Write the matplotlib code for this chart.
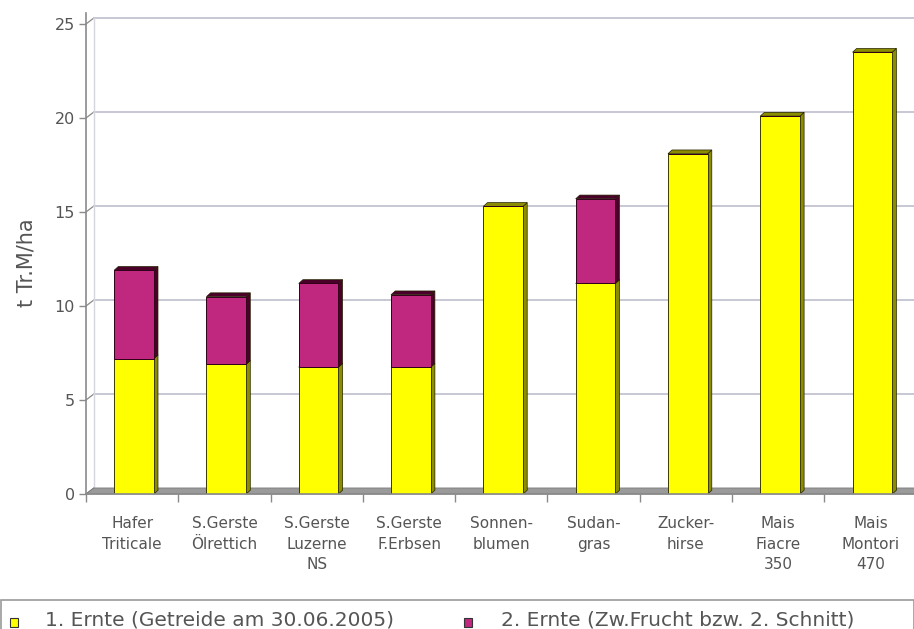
import matplotlib
matplotlib.use("Agg")
import matplotlib.pyplot as plt
from matplotlib.patches import Polygon, Rectangle

categories = ["Hafer\nTriticale", "S.Gerste\nÖlrettich", "S.Gerste\nLuzerne\nNS",
              "S.Gerste\nF.Erbsen", "Sonnen-\nblumen", "Sudan-\ngras",
              "Zucker-\nhirse", "Mais\nFiacre\n350", "Mais\nMontori\n470"]
ernte1 = [7.2, 6.9, 6.75, 6.75, 15.3, 11.2, 18.1, 20.1, 23.5]
ernte2 = [4.7, 3.6, 4.45, 3.85, 0.0, 4.5, 0.0, 0.0, 0.0]
series_labels = ["1. Ernte (Getreide am 30.06.2005)", "2. Ernte (Zw.Frucht bzw. 2. Schnitt)"]
yticks = [0, 5, 10, 15, 20, 25]

YELLOW = "#ffff00"
YELLOW_SIDE = "#8c8c00"
MAGENTA = "#c0287f"
MAGENTA_SIDE = "#4a0028"
GRID = "#c4c4d2"
AXIS = "#8a8a8a"
TEXT = "#555555"

W, H = 914, 629
fig = plt.figure(figsize=(W / 100, H / 100), dpi=100)
plt.rcParams["font.family"] = ["DejaVu Sans"]

# axes: y=0 at px 494, 1 unit = 18.8 px; categories 92.3 px apart from x=86
y0_px, unit_px = 494, 18.8
ytop = 25.6
left_px, right_px = 86, 86 + 9 * 92.3
ax = fig.add_axes([left_px / W, (H - y0_px) / H, (right_px - left_px) / W,
                   ytop * unit_px / H])
ax.set_xlim(-0.5, 8.5)
ax.set_ylim(0, ytop)
ax.patch.set_alpha(0)

# depth offsets (data units) of the back wall and of the bars
wdx, wdy = 0.085, 0.32
bdx, bdy = 0.045, 0.2

# back wall grid lines with their diagonal links to the axis
for v in yticks:
    ax.plot([-0.5, -0.5 + wdx], [v, v + wdy], color=AXIS, lw=0.9, zorder=1,
            clip_on=False)
    if v > 0:
        ax.plot([-0.5 + wdx, 8.6], [v + wdy, v + wdy], color=GRID, lw=1.3,
                zorder=1, clip_on=False)
ax.plot([-0.5 + wdx, -0.5 + wdx], [wdy, 25 + wdy], color="#d6d6de", lw=1.0,
        zorder=1, clip_on=False)

# floor band
ax.add_patch(Polygon([(-0.5, 0), (8.6, 0), (8.6 + wdx, wdy), (-0.5 + wdx, wdy)],
                     closed=True, facecolor="#9a9a9a", edgecolor="#7a7a7a",
                     lw=0.6, zorder=2, clip_on=False))

x = [i + 0.02 for i in range(len(categories))]
bw = 0.43


def box_faces(xc, bottom, height, side_color):
    if height <= 0:
        return
    xl, xr = xc - bw / 2, xc + bw / 2
    top = bottom + height
    ax.add_patch(Polygon([(xr, bottom), (xr + bdx, bottom + bdy),
                          (xr + bdx, top + bdy), (xr, top)], closed=True,
                         facecolor=side_color, edgecolor="#222200", lw=0.5,
                         zorder=3))
    ax.add_patch(Polygon([(xl, top), (xl + bdx, top + bdy),
                          (xr + bdx, top + bdy), (xr, top)], closed=True,
                         facecolor=side_color, edgecolor="#222200", lw=0.5,
                         zorder=3))


for xi, a, b in zip(x, ernte1, ernte2):
    box_faces(xi, 0, a, YELLOW_SIDE)
    box_faces(xi, a, b, MAGENTA_SIDE)

ax.bar(x, ernte1, width=bw, color=YELLOW, edgecolor="#3a3a00", lw=0.7, zorder=4)
ax.bar(x, ernte2, width=bw, bottom=ernte1, color=MAGENTA, edgecolor="#300018",
       lw=0.7, zorder=4)

# axes styling
for s in ["top", "right", "bottom"]:
    ax.spines[s].set_visible(False)
ax.spines["left"].set_color(AXIS)
ax.spines["left"].set_linewidth(1.2)
ax.set_yticks(yticks)
ax.set_yticklabels([str(v) for v in yticks])
ax.tick_params(axis="y", colors=AXIS, length=5, width=1, labelcolor=TEXT,
               labelsize=11.5, pad=3)
ax.set_xticks([i + 0.5 for i in range(-1, 9)], minor=True)
ax.set_xticks(range(len(categories)))
ax.set_xticklabels(categories, linespacing=1.45)
ax.tick_params(axis="x", which="major", length=0, labelcolor=TEXT,
               labelsize=11, pad=16)
ax.tick_params(axis="x", which="minor", length=6, width=1, color=AXIS)
ax.axhline(0, color=AXIS, lw=1.2, zorder=5, xmin=0, xmax=1, clip_on=False)

fig.text(27 / W, 1 - 263 / H, "t Tr.M/ha", rotation=90, ha="center",
         va="center", fontsize=15, color=TEXT)

# legend strip along the bottom edge
fig.patches.append(Rectangle((0.5 / W, -0.01), 1 - 1 / W, (H - 600) / H + 0.01,
                             transform=fig.transFigure, facecolor="white",
                             edgecolor="#9a9a9a", lw=1.2))
legend_y = 1 - 620 / H
for (mx, tx), label, col in zip([(10, 45), (464, 501)], series_labels,
                                [YELLOW, MAGENTA]):
    fig.patches.append(Rectangle((mx / W, 1 - 627 / H), 8 / W, 9 / H,
                                 transform=fig.transFigure, facecolor=col,
                                 edgecolor="#333333", lw=0.8))
    fig.text(tx / W, legend_y, label, ha="left", va="center", fontsize=14.5,
             color="#555555")

fig.savefig("out.png", dpi=100)
